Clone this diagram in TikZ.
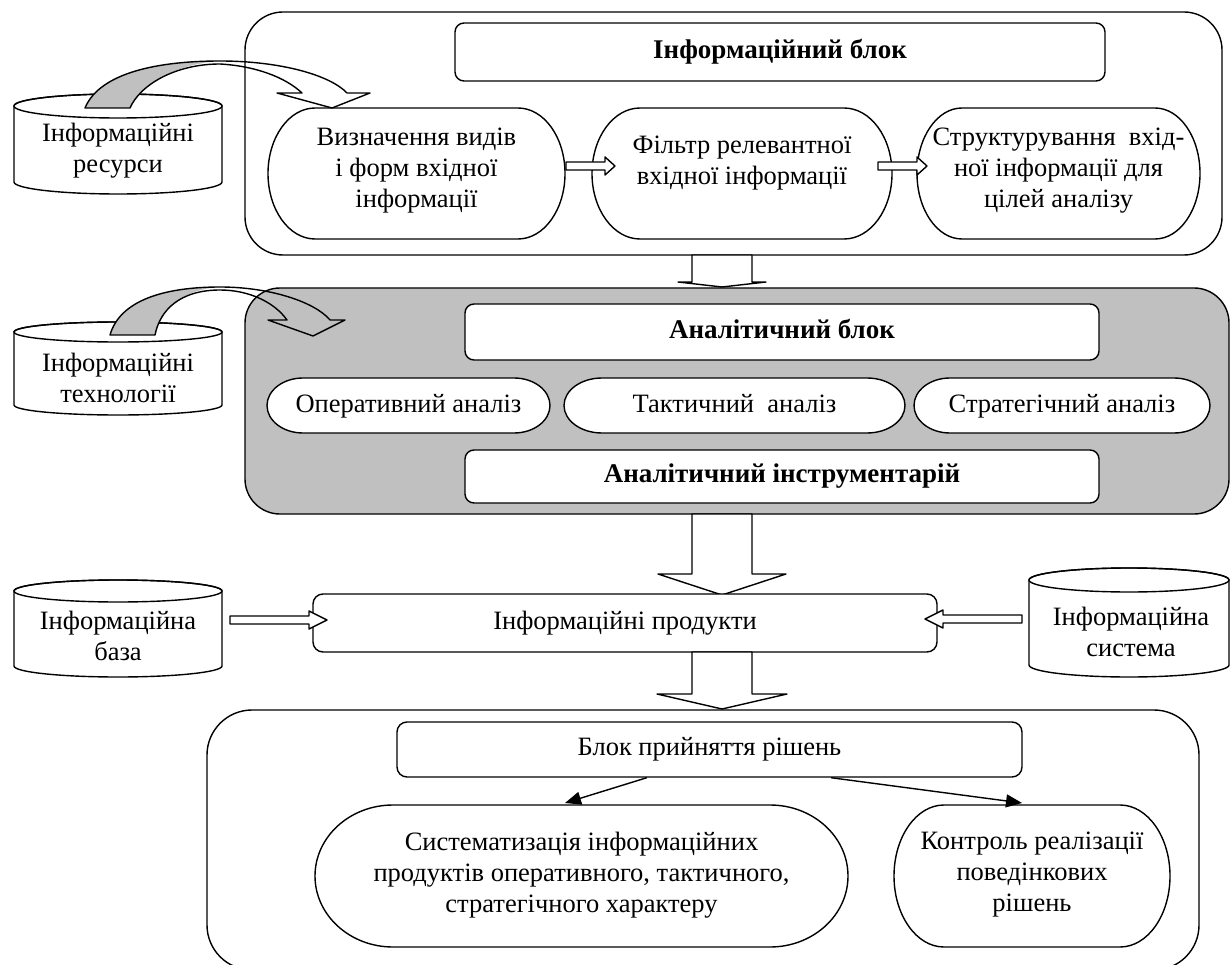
\documentclass[tikz,border=0pt]{standalone}
\usepackage{fontspec}
\setmainfont{Liberation Serif}
\usetikzlibrary{calc,arrows.meta}
\definecolor{grayfill}{RGB}{192,192,192}
% pill: cx cy w h rx ry
\newcommand{\pillshape}[6]{%
  \draw[ln,fill=white] ({#1-#3/2+#5},{#2-#4/2}) -- ({#1+#3/2-#5},{#2-#4/2})
    arc[start angle=-90,end angle=90,x radius=#5,y radius=#6]
    -- ({#1-#3/2+#5},{#2+#4/2})
    arc[start angle=90,end angle=270,x radius=#5,y radius=#6] -- cycle;}
% cylinder: x1 x2 ytop ybot rx ry
\newcommand{\cylshape}[6]{%
  \draw[ln,fill=white] (#1,#3) -- (#1,#4)
    arc[start angle=180,end angle=0,x radius=#5,y radius=#6] -- (#2,#3)
    arc[start angle=0,end angle=-180,x radius=#5,y radius=#6] -- cycle;
  \draw[ln] ({(#1+#2)/2},#3) ellipse[x radius=#5,y radius=#6];}
% horizontal block arrow: x1 x2 y headlen(signed) headhalf shafthalf
\newcommand{\harrow}[6]{%
  \draw[barrow] (#1,{#3-#6}) -- ({#2-(#4)},{#3-#6}) -- ({#2-(#4)},{#3-#5}) -- (#2,#3)
    -- ({#2-(#4)},{#3+#5}) -- ({#2-(#4)},{#3+#6}) -- (#1,{#3+#6}) -- cycle;}
% vertical block arrow: cx ytop ytip shafthalf headhalf headlen
\newcommand{\varrow}[6]{%
  \draw[barrow] ({#1-#4},#2) -- ({#1+#4},#2) -- ({#1+#4},{#3-#6}) -- ({#1+#5},{#3-#6})
    -- (#1,#3) -- ({#1-#5},{#3-#6}) -- ({#1-#4},{#3-#6}) -- cycle;}
\begin{document}
\begin{tikzpicture}[x=1pt,y=-1pt,
  ln/.style={line width=1.4pt, line join=round},
  txt/.style={font=\fontsize{26.5}{31}\selectfont, align=center, inner sep=0pt},
  one/.style={text height=18pt, text depth=6pt},
  box/.style={ln, draw, fill=white, rounded corners=9pt, inner sep=0pt, align=center,
    font=\fontsize{26.5}{31}\selectfont},
  bbox/.style={box, font=\fontsize{27}{31}\selectfont\bfseries},
  blk/.style={ln, draw, inner sep=0pt},
  barrow/.style={ln, draw, fill=white},
  tarrow/.style={ln, -{Triangle[length=16pt,width=13pt]}}
]
\useasboundingbox (0,0) rectangle (1231,965);

% ---------- top block ----------
\node[blk, fill=white, rounded corners=38pt, minimum width=977pt, minimum height=243pt] (tb) at (733.5,133.5) {};
\node[bbox, minimum width=650pt, minimum height=58pt] (ib) at (780,52) {Інформаційний блок};
\pillshape{416.5}{173.5}{297}{131}{47}{65.5}
\node[txt] (p1) at (416.5,171) {Визначення видів\\ і форм вхідної\\ інформації};
\pillshape{742}{173.5}{300}{131}{48}{65.5}
\node[txt] (p2) at (742,163) {Фільтр релевантної\\ вхідної інформації};
\pillshape{1058.5}{173.5}{283}{131}{45}{65.5}
\node[txt] (p3) at (1058.5,171) {Структурування\ \ вхід-\\ ної інформації для\\ цілей аналізу};
\harrow{566}{615}{166}{10}{9}{4}
\harrow{878}{927}{166}{10}{9}{4}

% ---------- cylinders left ----------
\cylshape{14}{222}{106}{182}{104}{12}
\node[txt] (c1) at (118,151) {Інформаційні\\ ресурси};
\cylshape{14}{222}{332}{405}{104}{10}
\node[txt] (c2) at (118,378) {Інформаційні\\ технології};

% ---------- analytic block ----------
\node[blk, fill=grayfill, rounded corners=35pt, minimum width=984pt, minimum height=226pt] (gb) at (737,401) {};
\node[bbox, one, minimum width=634pt, minimum height=56pt] (ab) at (782,332) {Аналітичний блок};
\pillshape{408.5}{405.5}{283}{55}{36}{27.5}
\node[txt, one] (e1) at (408.5,406) {Оперативний аналіз};
\pillshape{734.5}{405.5}{341}{55}{38}{27.5}
\node[txt, one] (e2) at (734.5,406) {Тактичний\ \ аналіз};
\pillshape{1062}{405.5}{296}{55}{36}{27.5}
\node[txt, one] (e3) at (1062,406) {Стратегічний аналіз};
\node[bbox, one, minimum width=634pt, minimum height=53pt] (ai) at (782,476.5) {Аналітичний інструментарій};

% down arrow top -> analytic
\varrow{722}{255}{287}{30}{44}{5}

% curved arrows
\fill[grayfill] (85,108) .. controls (100,72) and (160,61) .. (220,61) .. controls (175,64) and (140,85) .. (130,108) -- cycle;
\draw[ln] (85,108) .. controls (100,72) and (160,61) .. (220,61) .. controls (280,61) and (330,75) .. (347,93)
  -- (370,93) -- (332,108) -- (277,93) -- (302,93) .. controls (285,77) and (255,66) .. (220,64)
  .. controls (175,64) and (140,85) .. (130,108) -- cycle;
\fill[grayfill] (110,335) .. controls (120,300) and (165,287) .. (220,287) .. controls (180,290) and (160,310) .. (155,335) -- cycle;
\draw[ln] (110,335) .. controls (120,300) and (165,287) .. (220,287) .. controls (270,287) and (315,302) .. (330,320)
  -- (345,320) -- (313,336) -- (268,320) -- (287,320) .. controls (275,303) and (250,290) .. (220,290)
  .. controls (180,290) and (160,310) .. (155,335) -- cycle;

% ---------- products ----------
\varrow{722}{514}{595}{30}{64}{21}
\node[box, one, rounded corners=10pt, minimum width=624pt, minimum height=58pt] (pr) at (625,623) {Інформаційні продукти};
\cylshape{14}{222}{591}{666}{104}{11}
\node[txt] (c3) at (118,636) {Інформаційна\\ база};
\cylshape{1029}{1229}{580}{665}{100}{12}
\node[txt] (c4) at (1131,632) {Інформаційна\\ система};
\harrow{230}{327}{620}{18}{9}{4}
\harrow{1022}{925}{619}{-18}{9}{4}

% ---------- decision block ----------
\node[blk, fill=white, rounded corners=45pt, minimum width=992pt, minimum height=260pt] (bb) at (703,840) {};
\varrow{722}{652}{709}{30}{65}{15}
\node[box, one, rounded corners=10pt, minimum width=625pt, minimum height=55pt] (db) at (709.5,749.5) {Блок прийняття рішень};
\pillshape{581.5}{876}{533}{142}{78}{71}
\node[txt] (s1) at (581.5,875) {Систематизація інформаційних\\ продуктів оперативного, тактичного,\\ стратегічного характеру};
\pillshape{1032}{876}{276}{142}{50}{71}
\node[txt] (s2) at (1032,875) {Контроль реалізації\\ поведінкових\\ рішень};
\coordinate (s1in) at (565,803);
\coordinate (s2in) at (1022,803);
\draw[tarrow] ($(db.south west)!0.4!(db.south east)$) -- (s1in);
\draw[tarrow] ($(db.south west)!0.694!(db.south east)$) -- (s2in);
\end{tikzpicture}
\end{document}
